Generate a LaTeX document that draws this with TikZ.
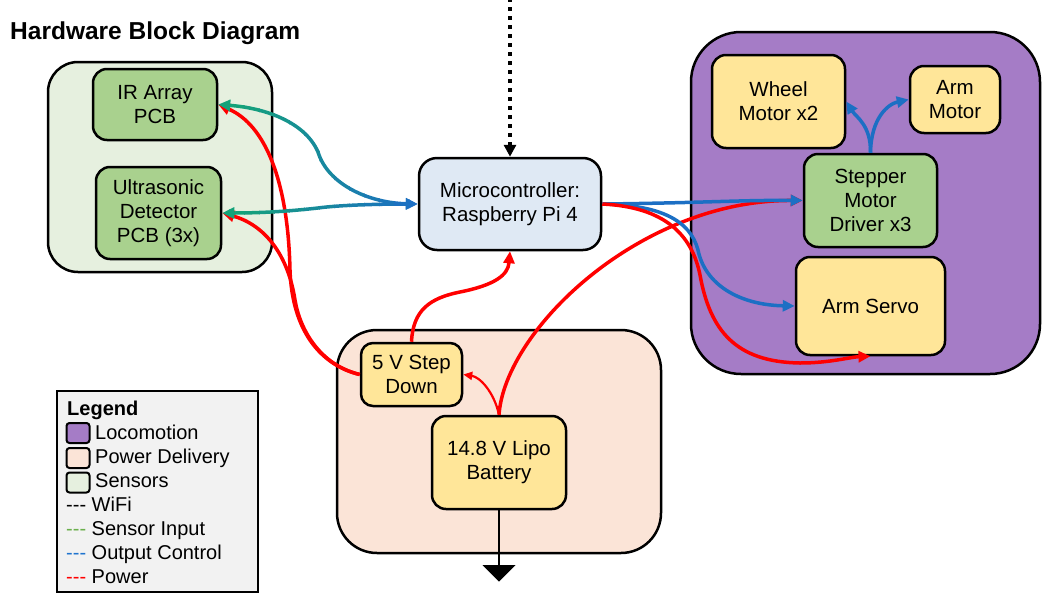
\documentclass[tikz,border=0pt]{standalone}
\usepackage{fontspec}
\setmainfont{Liberation Sans}
\usetikzlibrary{arrows.meta}
\definecolor{sensfill}{HTML}{E6F0DF}
\definecolor{nodegreen}{HTML}{A9D18E}
\definecolor{nodeyellow}{HTML}{FFE699}
\definecolor{locopurple}{HTML}{A57CC6}
\definecolor{powerfill}{HTML}{FBE4D7}
\definecolor{mcufill}{HTML}{DFE9F4}
\definecolor{legendfill}{HTML}{F2F2F2}
\definecolor{pwrred}{HTML}{FF0000}
\definecolor{ctlblue}{HTML}{1C6FC4}
\definecolor{sensgreen}{HTML}{14A279}
\definecolor{leggreen}{HTML}{6AB04C}
\definecolor{legblue}{HTML}{1F74CF}
\begin{document}
\begin{tikzpicture}[x=1pt,y=-1pt,
  grp/.style={draw=black,line width=2.5pt,inner sep=0pt},
  blk/.style={draw=black,line width=2.5pt,inner sep=0pt,align=center,rounded corners=14pt,font=\fontsize{20.5}{24}\selectfont},
  swatch/.style={draw=black,line width=2pt,rounded corners=3pt,minimum width=23pt,minimum height=20pt,inner sep=0pt},
  legtext/.style={anchor=base west,inner sep=0pt,font=\fontsize{20}{24}\selectfont},
  wire/.style={line width=3.5pt,-{Triangle[length=12pt,width=11pt]}},
  pwr/.style={wire,draw=pwrred},
  ctl/.style={wire,draw=ctlblue},
  sline/.style={line width=3.5pt,{Triangle[length=12pt,width=11pt]}-{Triangle[length=12pt,width=11pt]}},
]
\useasboundingbox (0,0) rectangle (1060,600);

\node[anchor=base west,inner sep=0pt,font=\bfseries\fontsize{24.5}{29}\selectfont] (title) at (10,39) {Hardware Block Diagram};

% groups
\node[grp,fill=sensfill,rounded corners=30pt,minimum width=224pt,minimum height=210pt] (sens) at (160,167) {};
\node[grp,fill=locopurple,rounded corners=50pt,minimum width=349pt,minimum height=342pt] (loco) at (865.5,203) {};
\node[grp,fill=powerfill,rounded corners=40pt,minimum width=324pt,minimum height=223pt] (pwrgrp) at (499,441.5) {};
\node[draw=black,line width=2pt,fill=legendfill,minimum width=201pt,minimum height=201pt,inner sep=0pt] (legend) at (157.5,491.5) {};

% blocks
\node[blk,fill=nodegreen,minimum width=124pt,minimum height=71pt] (ir) at (155,104.5) {IR Array\\PCB};
\node[blk,fill=nodegreen,minimum width=125pt,minimum height=92pt] (us) at (158.5,213) {Ultrasonic\\Detector\\PCB (3x)};
\node[blk,fill=mcufill,rounded corners=18pt,minimum width=182pt,minimum height=92pt] (mcu) at (510,204) {Microcontroller:\\Raspberry Pi 4};
\node[blk,fill=nodeyellow,minimum width=133pt,minimum height=93pt] (wheel) at (778.5,101.5) {Wheel\\Motor x2};
\node[blk,fill=nodeyellow,minimum width=90pt,minimum height=67pt] (armm) at (955,99.5) {Arm\\Motor};
\node[blk,fill=nodegreen,minimum width=133pt,minimum height=93pt] (stepper) at (870.5,200.5) {Stepper\\Motor\\Driver x3};
\node[blk,fill=nodeyellow,minimum width=149pt,minimum height=98pt] (servo) at (870.5,306) {Arm Servo};
\node[blk,fill=nodeyellow,rounded corners=12pt,minimum width=101pt,minimum height=63pt] (step) at (411.5,374.5) {5 V Step\\Down};
\node[blk,fill=nodeyellow,minimum width=134pt,minimum height=93pt] (batt) at (499,462.5) {14.8 V Lipo\\Battery};

% legend
\node[legtext,font=\bfseries\fontsize{20}{24}\selectfont] (legtitle) at (67,415.5) {Legend};
\node[swatch,fill=locopurple] (swl) at (78,433) {};
\node[legtext] (tl) at (95,439.5) {Locomotion};
\node[swatch,fill=powerfill] (swp) at (78,458) {};
\node[legtext] (tp) at (95,463.5) {Power Delivery};
\node[swatch,fill=sensfill] (sws) at (78,482.5) {};
\node[legtext] (ts) at (95,487.5) {Sensors};
\node[legtext] (tw) at (66,511.5) {-{}-{}- WiFi};
\node[legtext] (tsi) at (66,535.5) {\textcolor{leggreen}{-{}-{}-} Sensor Input};
\node[legtext] (toc) at (66,559.5) {\textcolor{legblue}{-{}-{}-} Output Control};
\node[legtext] (tpw) at (66,583.5) {\textcolor{pwrred}{-{}-{}-} Power};

% ground
\coordinate (gl) at (0,565);
\coordinate (gnd) at (batt.south |- gl);
\draw[line width=2.5pt] (batt.south) -- (gnd);
\fill (gnd) ++(-16.5,0) -- ++(33,0) -- ++(-16.5,16.5) -- cycle;

% wifi
\coordinate (wifi) at (510,-2);
\draw[line width=4pt,dash pattern=on 4pt off 5pt,-{Triangle[length=12pt,width=12pt]}] (wifi) -- (mcu.north);

% power wires (under)
\draw[pwr] (batt.north) .. controls (505,330) and (640,200) .. (stepper.west);
\draw[pwr] (step.west) .. controls (320,365) and (292,330) .. (290,270) .. controls (288,180) and (265,125) .. (ir.east);
\draw[pwr] (step.west) .. controls (320,365) and (300,330) .. (295,300) .. controls (288,255) and (265,225) .. (us.east);

% control wires
\draw[ctl] (mcu.east) .. controls (700,203) and (740,200) .. (stepper.west);
\draw[ctl] (mcu.east) .. controls (660,205) and (690,220) .. (698,250) .. controls (705,285) and (740,305) .. (servo.west);
\draw[ctl] (stepper.north) .. controls (871,125) and (856,117) .. (wheel.east);
\draw[ctl] (stepper.north) .. controls (871,118) and (888,104) .. (armm.west);

% other power wires
\draw[pwr] (step.north) .. controls (413,310) and (430,298) .. (460,292) .. controls (495,285) and (508,275) .. (mcu.south);
\draw[pwr,line width=2.2pt,-{Triangle[length=9pt,width=8pt]}] (batt.north) .. controls (494,392) and (480,377) .. (step.east);
\draw[pwr] (mcu.east) .. controls (665,207) and (692,235) .. (700,275) .. controls (710,330) and (735,362) .. (800,363) .. controls (830,363) and (850,357) .. (servo.south);

% sensor input wires with gradient
\foreach \i in {0,...,13}{
  \pgfmathsetmacro\xa{214+15*\i}
  \pgfmathsetmacro\xb{\xa+15.8}
  \pgfmathtruncatemacro\pc{max(0,min(100,100-(\xa+7.5-240)/1.7))}
  \begin{scope}
    \clip (\xa,-5) rectangle (\xb,605);
    \draw[sline,draw=sensgreen!\pc!ctlblue] (ir.east) .. controls (265,108) and (305,122) .. (318,152) .. controls (328,185) and (370,203) .. (mcu.west);
    \draw[sline,draw=sensgreen!\pc!ctlblue] (us.east) .. controls (270,213) and (300,210) .. (318,208) .. controls (340,205) and (380,204) .. (mcu.west);
  \end{scope}
}
\end{tikzpicture}
\end{document}
